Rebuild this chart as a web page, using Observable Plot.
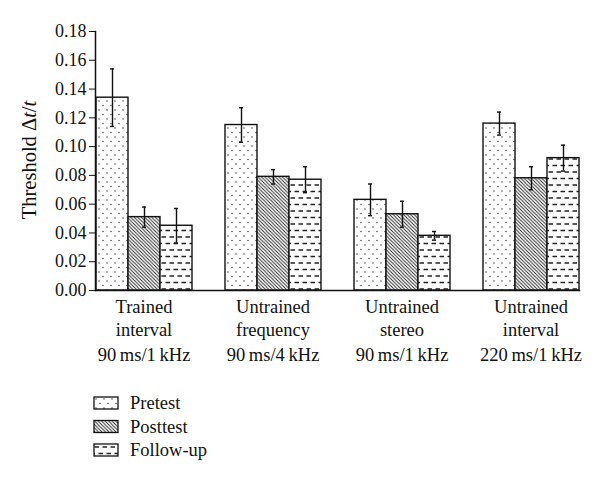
<!DOCTYPE html>
<html><head><meta charset="utf-8">
<script src="https://cdn.jsdelivr.net/npm/d3@7"></script>
<script src="https://cdn.jsdelivr.net/npm/@observablehq/plot@0.6"></script>
<style>
body{margin:0;background:#fff;font-family:"Liberation Serif",serif;}
#chart svg{display:block;}
</style>
</head><body>
<svg width="0" height="0" style="position:absolute">
  <defs>
    <pattern id="patDots" patternUnits="userSpaceOnUse" width="8" height="9">
      <rect width="8" height="9" fill="#fff"/>
      <circle cx="2" cy="2" r="0.65" fill="#222"/>
      <circle cx="6" cy="6.5" r="0.65" fill="#222"/>
    </pattern>
    <pattern id="patDiag" patternUnits="userSpaceOnUse" width="3.5" height="3.5">
      <rect width="3.5" height="3.5" fill="#fff"/>
      <path d="M0,0L3.5,3.5M-1,2.5L1,4.5M2.5,-1L4.5,1" stroke="#222" stroke-width="0.9"/>
    </pattern>
    <pattern id="patDash" patternUnits="userSpaceOnUse" width="8" height="13">
      <rect width="8" height="13" fill="#fff"/>
      <path d="M0.5,3H5M4.5,9.5H9M-3.5,9.5H1" stroke="#222" stroke-width="1.4"/>
    </pattern>
  </defs>
</svg>
<div id="chart"></div>
<div id="legend"></div>
<script>
const groups = ["Trained interval", "Untrained frequency", "Untrained stereo", "Untrained interval"];
const groupLabels = ["Trained\ninterval", "Untrained\nfrequency", "Untrained\nstereo", "Untrained\ninterval"];
const groupConditions = ["90\u2009ms/1\u2009kHz", "90\u2009ms/4\u2009kHz", "90\u2009ms/1\u2009kHz", "220\u2009ms/1\u2009kHz"];
const series = ["Pretest", "Posttest", "Follow-up"];
const pretest = [0.134, 0.115, 0.063, 0.116];
const pretestErr = [0.020, 0.012, 0.011, 0.008];
const posttest = [0.051, 0.079, 0.053, 0.078];
const posttestErr = [0.007, 0.005, 0.009, 0.008];
const followup = [0.045, 0.077, 0.038, 0.092];
const followupErr = [0.012, 0.009, 0.003, 0.009];
const yTicks = [0, 0.02, 0.04, 0.06, 0.08, 0.10, 0.12, 0.14, 0.16, 0.18];
const patterns = ["url(#patDots)", "url(#patDiag)", "url(#patDash)"];

const values = [pretest, posttest, followup];
const errs = [pretestErr, posttestErr, followupErr];
const data = [];
groups.forEach((g, i) => series.forEach((s, j) => {
  data.push({group: g, series: s, value: values[j][i], err: errs[j][i], fill: patterns[j]});
}));
const labelData = groups.map((g, i) => ({group: g, label: groupLabels[i], cond: groupConditions[i]}));

const font = "'Liberation Serif', serif";
const chart = Plot.plot({
  width: 600,
  height: 380,
  marginLeft: 94,
  marginRight: 21,
  marginTop: 31,
  marginBottom: 90,
  style: {fontFamily: font, fontSize: "18px", color: "#111", background: "#fff"},
  fx: {domain: groups, paddingInner: 0.25, paddingOuter: 0, axis: null, label: null},
  x: {domain: series, padding: 0, axis: null},
  y: {domain: [0, 0.18], ticks: yTicks, tickFormat: d3.format(".2f"), tickSize: 6, tickPadding: 3, label: null},
  marks: [
    Plot.barY(data, {fx: "group", x: "series", y: "value", fill: d => d.fill, stroke: "#111", strokeWidth: 1.4}),
    Plot.ruleX(data, {fx: "group", x: "series", y1: d => d.value - d.err, y2: d => d.value + d.err, stroke: "#111", strokeWidth: 1.4}),
    Plot.tickY(data, {fx: "group", x: "series", y: d => d.value + d.err, insetLeft: 14, insetRight: 14, stroke: "#111", strokeWidth: 1.4}),
    Plot.tickY(data, {fx: "group", x: "series", y: d => d.value - d.err, insetLeft: 14, insetRight: 14, stroke: "#111", strokeWidth: 1.4}),
    Plot.frame({anchor: "bottom", facet: "super", stroke: "#111", strokeWidth: 1.5}),
    Plot.frame({anchor: "left", facet: "super", stroke: "#111", strokeWidth: 1.5}),
    Plot.text(labelData, {fx: "group", text: "label", frameAnchor: "bottom", lineAnchor: "top", dy: 6, lineHeight: 1.25, fontSize: 18.5, fill: "#111"}),
    Plot.text(labelData, {fx: "group", text: "cond", frameAnchor: "bottom", lineAnchor: "top", dy: 57, fontSize: 18.5, fill: "#111"})
  ]
});
chart.setAttribute("font-family", font);
const svg = d3.select(chart);
const yl = svg.append("text")
  .attr("transform", "translate(36,160) rotate(-90)")
  .style("text-anchor", "middle")
  .style("font-size", "20.5px")
  .style("font-family", font)
  .attr("fill", "#111");
yl.append("tspan").text("Threshold \u0394");
yl.append("tspan").style("font-style", "italic").text("t");
yl.append("tspan").text("/");
yl.append("tspan").style("font-style", "italic").text("t");
document.getElementById("chart").append(chart);

const lg = d3.select("#legend").append("svg").attr("width", 600).attr("height", 106).attr("font-family", font);
series.forEach((s, j) => {
  const g = lg.append("g").attr("transform", `translate(94,${17 + j * 23.5})`);
  g.append("rect").attr("width", 24).attr("height", 12).attr("fill", patterns[j]).attr("stroke", "#111").attr("stroke-width", 1.3);
  g.append("text").attr("x", 36).attr("y", 12).style("font-size", "18.5px").attr("fill", "#111").text(s);
});
</script>
</body></html>
